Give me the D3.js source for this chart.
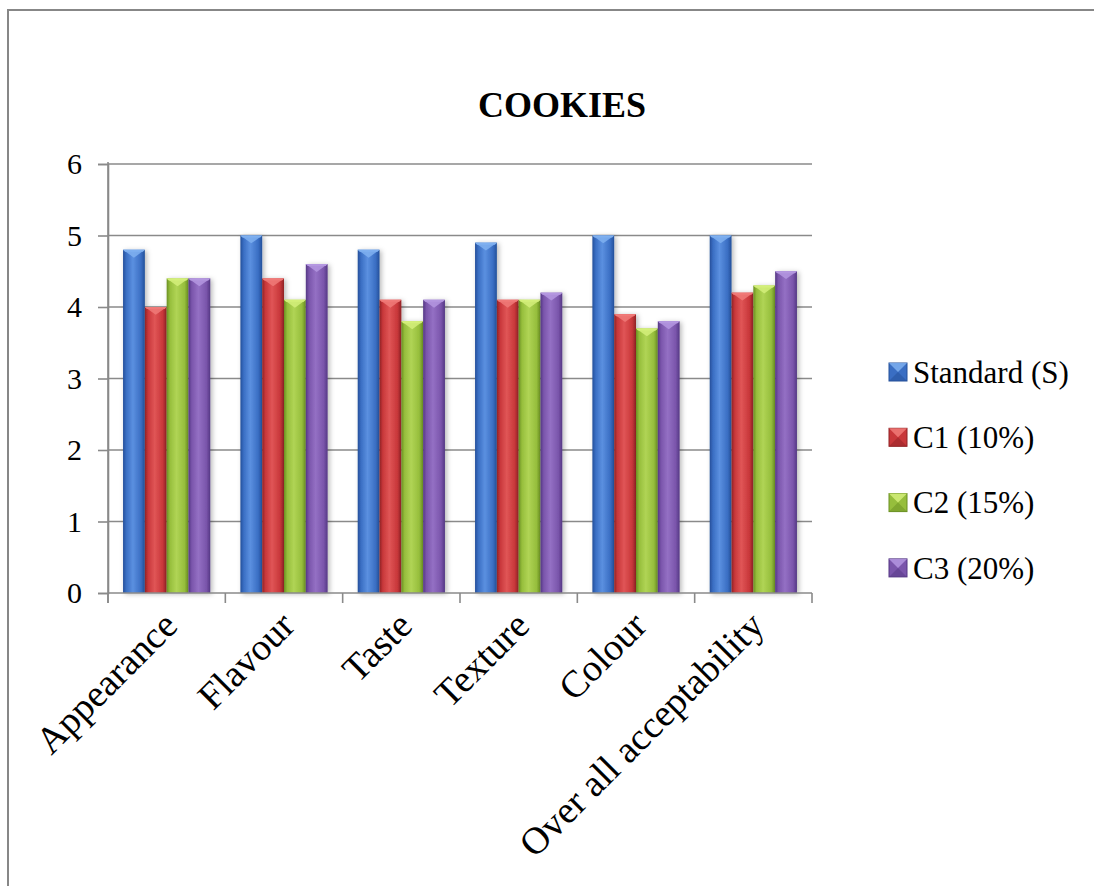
<!DOCTYPE html>
<html>
<head>
<meta charset="utf-8">
<script src="https://cdn.jsdelivr.net/npm/d3@7/dist/d3.min.js"></script>
<style>
  html, body { margin: 0; padding: 0; background: #fff; }
  svg { display: block; }
  svg text { font-family: "Liberation Serif", "Times New Roman", serif !important; fill: #000; }
</style>
</head>
<body>
<svg id="chart" width="1094" height="886"></svg>
<script>
// Sensory scores for cookie formulations
const categories = ["Appearance", "Flavour", "Taste", "Texture", "Colour", "Over all acceptability"];
const seriesNames = ["Standard (S)", "C1 (10%)", "C2 (15%)", "C3 (20%)"];
const standardS = [4.8, 5.0, 4.8, 4.9, 5.0, 5.0];
const c1 = [4.0, 4.4, 4.1, 4.1, 3.9, 4.2];
const c2 = [4.4, 4.1, 3.8, 4.1, 3.7, 4.3];
const c3 = [4.4, 4.6, 4.1, 4.2, 3.8, 4.5];
const yTicks = [0, 1, 2, 3, 4, 5, 6];
const chartTitle = "COOKIES";

const seriesValues = [standardS, c1, c2, c3];
const palette = [
  { base: "#3a6ec3", light: "#5b90e0", dark: "#24509a", top: "#7fb0f0" },
  { base: "#c8373a", light: "#e05556", dark: "#8f2225", top: "#f07a78" },
  { base: "#96be3c", light: "#b0d455", dark: "#6a8f22", top: "#d4ef7a" },
  { base: "#7a55ab", light: "#9470c4", dark: "#543784", top: "#b497e0" }
];
const serif = "'Liberation Serif', 'Times New Roman', serif";

const svg = d3.select("#chart");
const defs = svg.append("defs");

// Outer frame
svg.append("rect")
  .attr("x", 8).attr("y", 10).attr("width", 1100).attr("height", 900)
  .attr("fill", "none").attr("stroke", "#878787").attr("stroke-width", 2);

// Bar gradients (horizontal shading for the rounded column look)
palette.forEach((c, i) => {
  const g = defs.append("linearGradient").attr("id", "grad" + i)
    .attr("x1", "0%").attr("x2", "100%").attr("y1", "0%").attr("y2", "0%");
  g.append("stop").attr("offset", "0%").attr("stop-color", c.dark);
  g.append("stop").attr("offset", "15%").attr("stop-color", c.base);
  g.append("stop").attr("offset", "45%").attr("stop-color", c.light);
  g.append("stop").attr("offset", "82%").attr("stop-color", c.base);
  g.append("stop").attr("offset", "100%").attr("stop-color", c.dark);
});

const shadow = defs.append("filter").attr("id", "shadow")
  .attr("x", "-40%").attr("y", "-10%").attr("width", "180%").attr("height", "120%");
shadow.append("feDropShadow").attr("dx", 2).attr("dy", 1).attr("stdDeviation", 2.5)
  .attr("flood-color", "#000").attr("flood-opacity", 0.28);

const plot = { left: 108, right: 812, top: 164, bottom: 593 };

const x = d3.scaleBand().domain(categories).range([plot.left, plot.right]).paddingInner(0).paddingOuter(0);
const xs = d3.scaleBand().domain(seriesNames).range([0, x.bandwidth()]).paddingInner(0).paddingOuter(0.69);
const y = d3.scaleLinear().domain([0, 6]).range([plot.bottom, plot.top]);

// Gridlines
svg.append("g").selectAll("line").data(yTicks.filter(d => d > 0)).join("line")
  .attr("x1", plot.left).attr("x2", plot.right)
  .attr("y1", d => y(d)).attr("y2", d => y(d))
  .attr("stroke", "#8a8a8a").attr("stroke-width", 1.6);

// Y axis
const yAxis = svg.append("g").attr("transform", `translate(${plot.left},0)`)
  .call(d3.axisLeft(y).tickValues(yTicks).tickFormat(d3.format("d")).tickSize(10).tickPadding(16));
yAxis.attr("font-family", serif).attr("font-size", 30);
yAxis.select(".domain").attr("stroke", "#8a8a8a").attr("stroke-width", 1.6);
yAxis.selectAll(".tick line").attr("stroke", "#8a8a8a").attr("stroke-width", 1.6);
yAxis.selectAll(".tick text").attr("fill", "#000");

// Bars
const groups = svg.append("g").selectAll("g").data(categories).join("g")
  .attr("transform", d => `translate(${x(d)},0)`);

const bars = groups.selectAll("g.bar").data((cat, ci) => seriesNames.map((s, si) => ({ s, si, v: seriesValues[si][ci] })))
  .join("g").attr("class", "bar");

bars.append("rect")
  .attr("x", d => xs(d.s)).attr("width", xs.bandwidth())
  .attr("y", d => y(d.v)).attr("height", d => y(0) - y(d.v))
  .attr("fill", d => `url(#grad${d.si})`)
  .attr("filter", "url(#shadow)");

// Bevelled top: light wedge pointing down
bars.append("path")
  .attr("d", d => {
    const x0 = xs(d.s), w = xs.bandwidth(), t = y(d.v), h = w * 0.36;
    return `M${x0},${t} L${x0 + w},${t} L${x0 + w / 2},${t + h} Z`;
  })
  .attr("fill", d => palette[d.si].top).attr("opacity", 0.85);

bars.append("path")
  .attr("d", d => {
    const x0 = xs(d.s), w = xs.bandwidth(), t = y(d.v);
    return `M${x0},${t} L${x0 + w},${t} L${x0 + w - 2},${t + 2} L${x0 + 2},${t + 2} Z`;
  })
  .attr("fill", d => palette[d.si].top);

// X axis
const xAxis = svg.append("g").attr("transform", `translate(0,${plot.bottom})`);
xAxis.append("line").attr("x1", plot.left).attr("x2", plot.right).attr("y1", 0).attr("y2", 0)
  .attr("stroke", "#8a8a8a").attr("stroke-width", 1.6);
const boundaries = categories.map(c => x(c)).concat([x(categories[categories.length - 1]) + x.bandwidth()]);
xAxis.selectAll("line.tk").data(boundaries).join("line").attr("class", "tk")
  .attr("x1", d => d).attr("x2", d => d).attr("y1", 0).attr("y2", 10)
  .attr("stroke", "#8a8a8a").attr("stroke-width", 1.6);
svg.append("line").attr("x1", plot.left).attr("x2", plot.left).attr("y1", plot.top - 2).attr("y2", plot.bottom + 10)
  .attr("stroke", "#8a8a8a").attr("stroke-width", 1.6);

xAxis.selectAll("text.cat").data(categories).join("text").attr("class", "cat")
  .attr("transform", d => `translate(${x(d) + x.bandwidth() / 2 - 6},${16}) rotate(-45)`)
  .attr("text-anchor", "end").attr("dy", "0.7em")
  .attr("font-family", serif)
  .attr("font-size", 38)
  .text(d => d);

// Title
svg.append("text").attr("x", 562).attr("y", 117).attr("text-anchor", "middle")
  .attr("font-family", serif)
  .attr("font-size", 36).attr("font-weight", "bold").text(chartTitle);

// Legend
const legend = svg.append("g").selectAll("g").data(seriesNames).join("g")
  .attr("transform", (d, i) => `translate(889,${372 + i * 65.3})`);
legend.append("rect").attr("x", 0).attr("y", -9).attr("width", 18).attr("height", 18)
  .attr("fill", (d, i) => palette[i].base).attr("stroke", (d, i) => palette[i].dark).attr("stroke-width", 1);
legend.append("path")
  .attr("d", "M0,-9 L18,-9 L9,0 Z")
  .attr("fill", (d, i) => palette[i].top).attr("opacity", 0.85);
legend.append("path")
  .attr("d", "M0,9 L18,9 L9,0 Z")
  .attr("fill", (d, i) => palette[i].dark).attr("opacity", 0.5);
legend.append("text").attr("x", 24).attr("y", 0).attr("dy", "0.35em")
  .attr("font-family", serif)
  .attr("font-size", 31).text(d => d);
</script>
</body>
</html>
